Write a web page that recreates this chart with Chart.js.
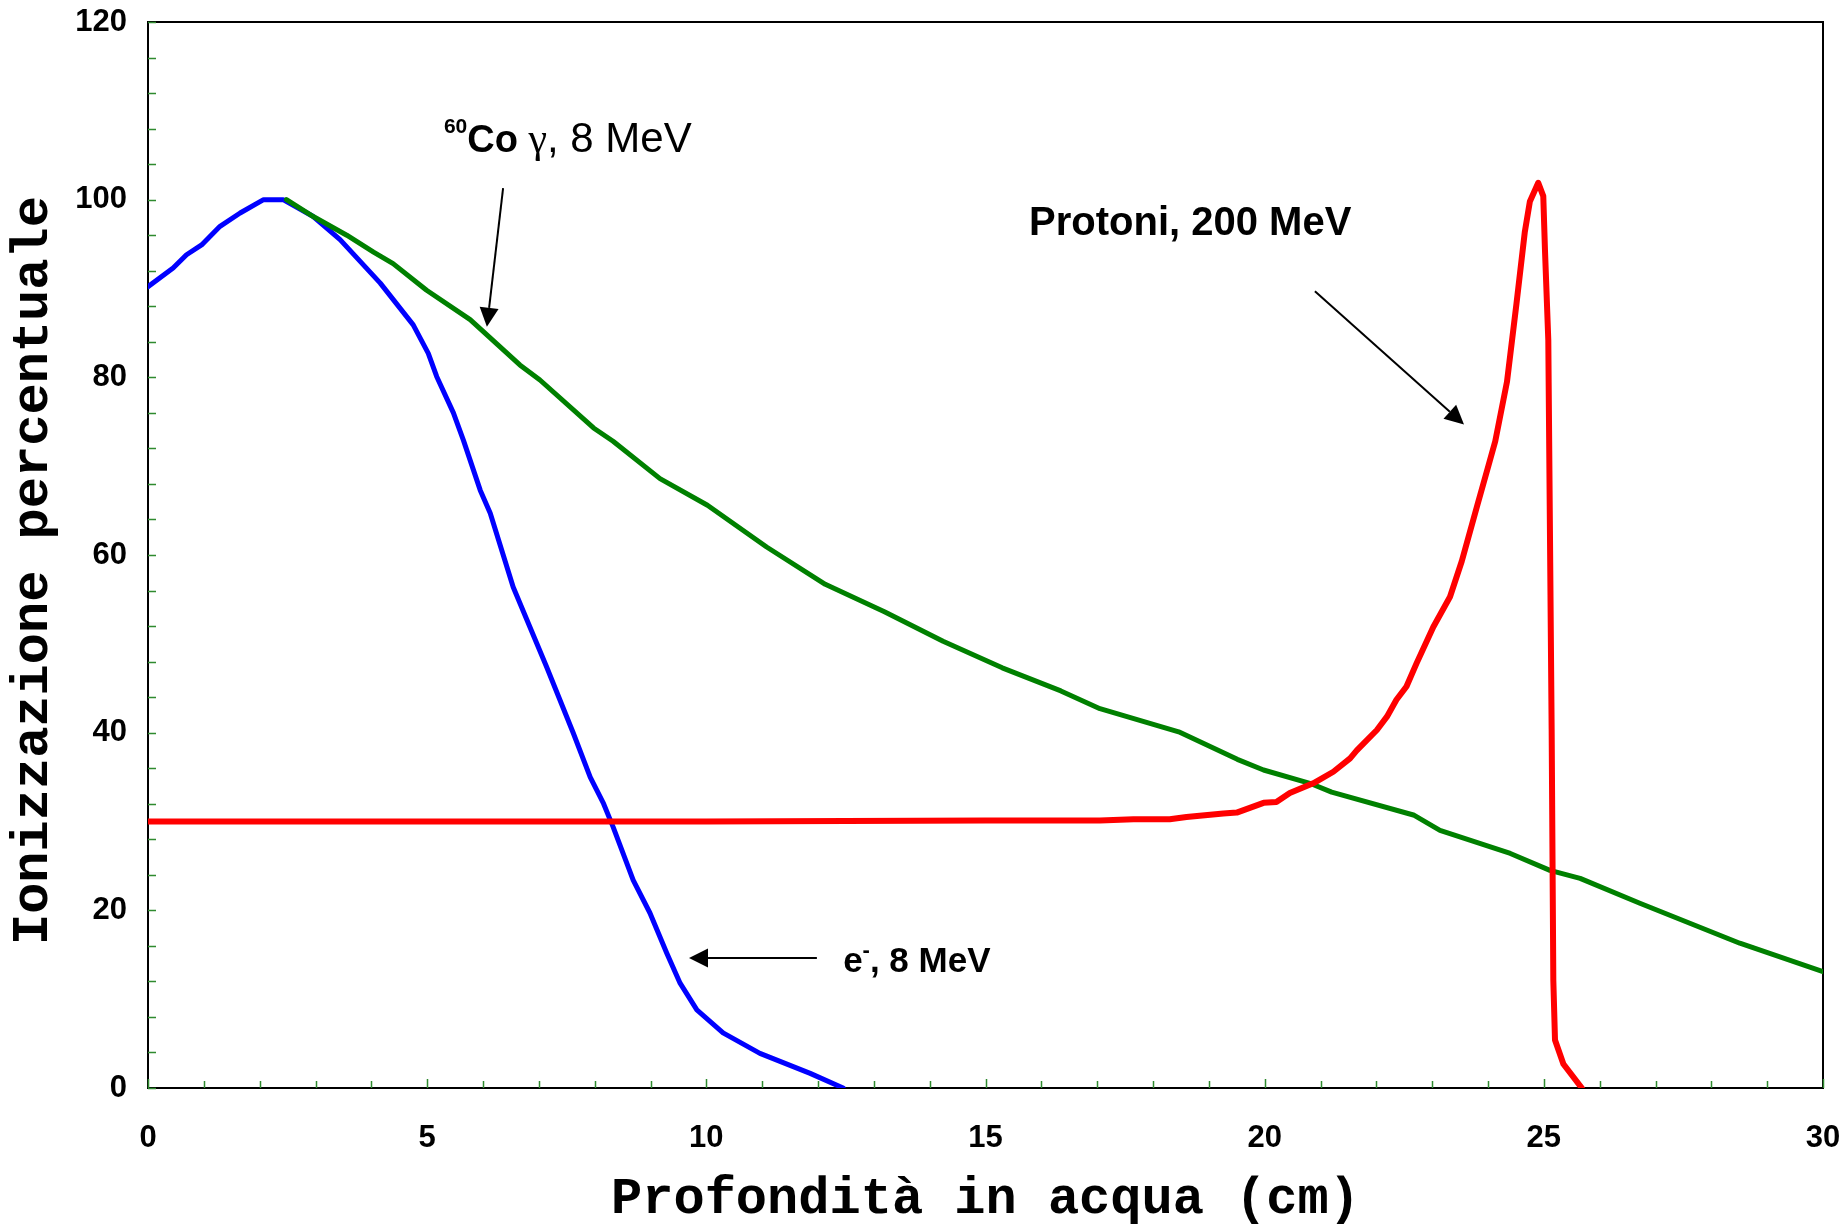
<!DOCTYPE html>
<html>
<head>
<meta charset="utf-8">
<title>Ionizzazione percentuale</title>
<script src="https://cdn.jsdelivr.net/npm/chart.js@4.4.0/dist/chart.umd.min.js"></script>
<style>
  html, body { margin: 0; padding: 0; background: #fff; }
</style>
</head>
<body>
<canvas id="doseChart" width="1848" height="1228"></canvas>
<script>
// elettroni 8 MeV (profondità cm / ionizzazione %)
const elecX = [0, 0.45, 0.69, 0.96, 1.29, 1.65, 2.07, 2.42, 2.96, 3.44, 4.16, 4.75, 5.02, 5.17, 5.47, 5.65, 5.95, 6.13, 6.54, 6.96, 7.14, 7.62, 7.92, 8.16, 8.33, 8.69, 8.99, 9.29, 9.53, 9.83, 10.30, 10.96, 11.86, 12.45];
const elecY = [90.2, 92.3, 93.8, 94.9, 97.0, 98.5, 100, 100, 98.1, 95.5, 90.6, 85.9, 82.7, 80.1, 76.0, 72.9, 67.3, 64.7, 56.4, 50.1, 47.4, 39.9, 35.0, 32.0, 29.4, 23.4, 19.7, 15.2, 11.8, 8.8, 6.2, 3.9, 1.65, 0];

// 60Co gamma
const cobaltX = [2.48, 2.96, 3.56, 4.04, 4.39, 4.99, 5.77, 6.66, 7.02, 7.98, 8.33, 9.17, 10.02, 11.08, 12.13, 13.19, 14.24, 15.30, 16.35, 17.05, 18.46, 19.51, 19.98, 20.81, 21.2, 22.68, 23.14, 24.40, 25.11, 25.65, 26.72, 28.51, 30];
const cobaltY = [100, 98.1, 96.0, 94.1, 92.8, 89.8, 86.5, 81.4, 79.7, 74.3, 72.8, 68.6, 65.6, 60.9, 56.7, 53.6, 50.3, 47.3, 44.7, 42.7, 40.1, 37.0, 35.8, 34.3, 33.3, 30.7, 29.0, 26.4, 24.5, 23.6, 20.8, 16.3, 13.1];

// protoni 200 MeV (picco di Bragg)
const protonX = [0, 5, 10, 15, 17.05, 17.65, 18.3, 18.6, 19.26, 19.5, 19.98, 20.21, 20.45, 20.87, 21.23, 21.53, 21.65, 22.01, 22.19, 22.36, 22.54, 22.72, 23.02, 23.32, 23.53, 23.80, 24.01, 24.13, 24.34, 24.51, 24.66, 24.75, 24.90, 24.99, 25.02, 25.08, 25.14, 25.17, 25.20, 25.35, 25.68];
const protonY = [30, 30, 30, 30.1, 30.1, 30.25, 30.25, 30.5, 30.9, 31.0, 32.1, 32.2, 33.2, 34.3, 35.6, 37.1, 38.0, 40.3, 41.8, 43.7, 45.2, 47.8, 51.9, 55.3, 59.3, 65.4, 70.1, 72.8, 79.5, 88.3, 96.4, 99.8, 101.9, 100.4, 94.4, 84.2, 40.4, 12.1, 5.4, 2.7, 0];

// assi
const xTicks = [0, 5, 10, 15, 20, 25, 30];
const yTicks = [0, 20, 40, 60, 80, 100, 120];

const SANS = "'Liberation Sans', Arial, sans-serif";
const MONO = "'Liberation Mono', 'Courier New', monospace";

function toPoints(xs, ys) {
    return xs.map((x, i) => ({ x: x, y: ys[i] }));
}

// etichette e frecce (coordinate in unità dei dati)
const notes = [
    { x: 5.30, y: 105.4, runs: [
        { text: '60', font: 'bold 21px ' + SANS, dy: -19 },
        { text: 'Co', font: 'bold 38px ' + SANS },
        { text: ' γ', font: '42px "Liberation Serif", serif' },
        { text: ', 8 MeV', font: '42px ' + SANS }
    ]},
    { x: 15.78, y: 96.0, runs: [
        { text: 'Protoni, 200 MeV', font: 'bold 40px ' + SANS }
    ]},
    { x: 12.45, y: 13.06, runs: [
        { text: 'e', font: 'bold 35px ' + SANS },
        { text: '-', font: 'bold 22px ' + SANS, dy: -15 },
        { text: ', 8 MeV', font: 'bold 35px ' + SANS }
    ]}
];
const arrows = [
    { from: [6.36, 101.3], to: [6.07, 85.7] },
    { from: [20.90, 89.7], to: [23.57, 74.7] },
    { from: [11.98, 14.63], to: [9.69, 14.63] }
];

const decorPlugin = {
    id: 'decor',
    beforeDatasetsDraw(chart) {
        const { ctx, chartArea: a, scales: { x, y } } = chart;
        ctx.save();
        // cornice
        ctx.strokeStyle = '#000';
        ctx.lineWidth = 2;
        ctx.strokeRect(a.left, a.top, a.right - a.left, a.bottom - a.top);
        // tacche interne
        ctx.strokeStyle = '#2f8a2f';
        ctx.lineWidth = 1.5;
        ctx.beginPath();
        for (let v = 0; v <= 120; v += 4) {
            const py = Math.round(y.getPixelForValue(v)) + 0.5;
            ctx.moveTo(a.left, py);
            ctx.lineTo(a.left + 8, py);
        }
        for (let v = 0; v <= 30; v++) {
            const px = Math.round(x.getPixelForValue(v)) + 0.5;
            ctx.moveTo(px, a.bottom);
            ctx.lineTo(px, a.bottom - (v % 5 === 0 ? 9 : 7));
        }
        ctx.stroke();
        ctx.restore();
    },
    afterDatasetsDraw(chart) {
        const { ctx, scales: { x, y } } = chart;
        ctx.save();
        ctx.fillStyle = '#000';
        ctx.textBaseline = 'alphabetic';
        ctx.textAlign = 'left';
        notes.forEach(n => {
            let px = x.getPixelForValue(n.x);
            const py = y.getPixelForValue(n.y);
            n.runs.forEach(r => {
                ctx.font = r.font;
                ctx.fillText(r.text, px, py + (r.dy || 0));
                px += ctx.measureText(r.text).width;
            });
        });
        // frecce
        ctx.strokeStyle = '#000';
        ctx.lineWidth = 2;
        arrows.forEach(ar => {
            const x1 = x.getPixelForValue(ar.from[0]), y1 = y.getPixelForValue(ar.from[1]);
            const x2 = x.getPixelForValue(ar.to[0]), y2 = y.getPixelForValue(ar.to[1]);
            const ang = Math.atan2(y2 - y1, x2 - x1);
            const len = 19, half = 9.5;
            const bx = x2 - len * Math.cos(ang), by = y2 - len * Math.sin(ang);
            ctx.beginPath();
            ctx.moveTo(x1, y1);
            ctx.lineTo(bx, by);
            ctx.stroke();
            ctx.beginPath();
            ctx.moveTo(x2, y2);
            ctx.lineTo(bx + half * Math.sin(ang), by - half * Math.cos(ang));
            ctx.lineTo(bx - half * Math.sin(ang), by + half * Math.cos(ang));
            ctx.closePath();
            ctx.fill();
        });
        ctx.restore();
    }
};

const ctx = document.getElementById('doseChart').getContext('2d');
new Chart(ctx, {
    type: 'line',
    data: {
        datasets: [
            {
                label: 'Protoni, 200 MeV',
                data: toPoints(protonX, protonY),
                borderColor: '#ff0000',
                borderWidth: 6
            },
            {
                label: '60Co γ, 8 MeV',
                data: toPoints(cobaltX, cobaltY),
                borderColor: '#008000',
                borderWidth: 5
            },
            {
                label: 'e-, 8 MeV',
                data: toPoints(elecX, elecY),
                borderColor: '#0000ff',
                borderWidth: 5
            }
        ]
    },
    options: {
        responsive: false,
        animation: false,
        layout: { padding: { top: 22, right: 25, left: 0, bottom: 0 } },
        elements: {
            point: { radius: 0 },
            line: { tension: 0, borderJoinStyle: 'round', borderCapStyle: 'round', fill: false }
        },
        plugins: {
            legend: { display: false },
            tooltip: { enabled: false }
        },
        scales: {
            x: {
                type: 'linear',
                min: 0,
                max: 30,
                afterBuildTicks: s => { s.ticks = xTicks.map(v => ({ value: v })); },
                afterFit: s => {
                    s.height = 140;
                    s.paddingLeft = 0;
                    s.paddingRight = 0;
                },
                grid: { display: false, drawTicks: false },
                border: { display: false },
                ticks: {
                    padding: 32,
                    color: '#000',
                    maxRotation: 0,
                    font: { family: SANS, size: 31, weight: 'bold' }
                },
                title: {
                    display: true,
                    text: 'Profondità in acqua (cm)',
                    color: '#000',
                    padding: { top: 0, bottom: 2 },
                    font: { family: MONO, size: 52, weight: 'bold', lineHeight: 1 }
                }
            },
            y: {
                type: 'linear',
                min: 0,
                max: 120,
                afterBuildTicks: s => { s.ticks = yTicks.map(v => ({ value: v })); },
                afterFit: s => {
                    s.width = 148;
                    s.paddingTop = 0;
                    s.paddingBottom = 0;
                },
                grid: { display: false, drawTicks: false },
                border: { display: false },
                ticks: {
                    padding: 21,
                    color: '#000',
                    font: { family: SANS, size: 31, weight: 'bold' }
                },
                title: {
                    display: true,
                    // lo spazio finale abbassa un poco il titolo, come nell'originale
                    text: 'Ionizzazione percentuale ',
                    color: '#000',
                    padding: { top: 8, bottom: 0 },
                    font: { family: MONO, size: 52, weight: 'bold', lineHeight: 1 }
                }
            }
        }
    },
    plugins: [decorPlugin]
});
</script>
</body>
</html>
